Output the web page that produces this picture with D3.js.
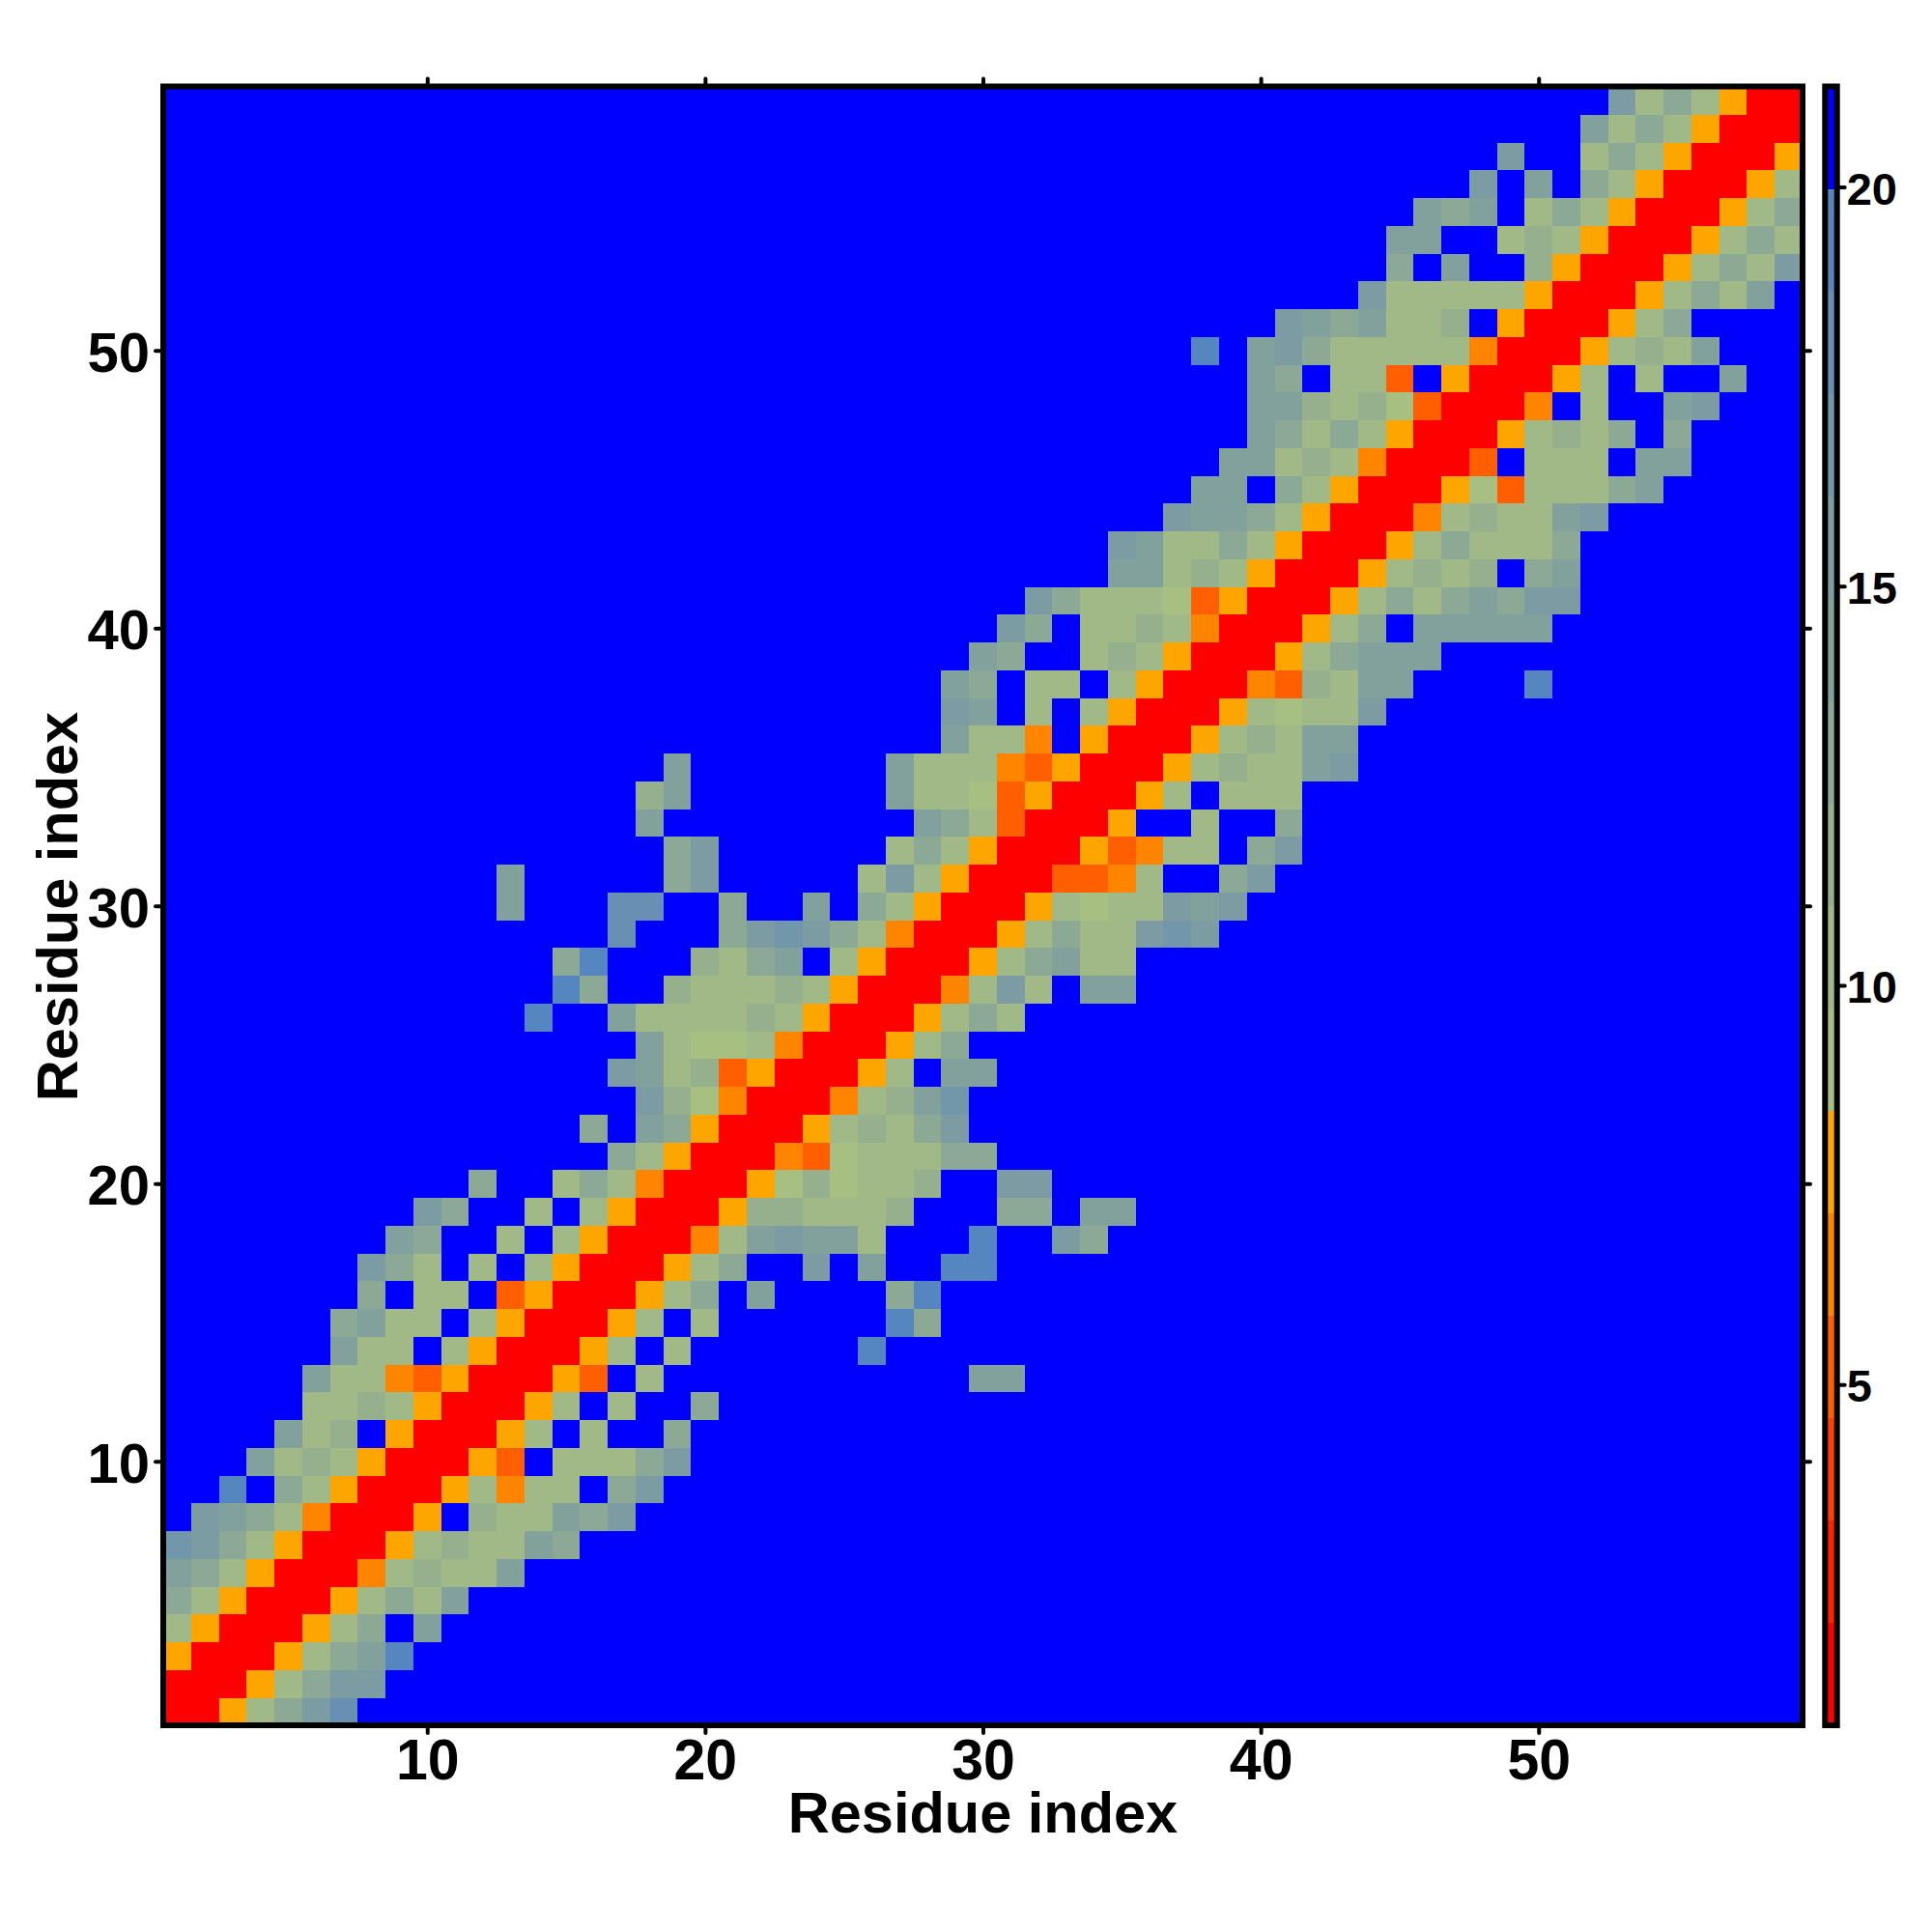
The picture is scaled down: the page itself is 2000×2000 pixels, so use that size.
<!DOCTYPE html>
<html>
<head>
<meta charset="utf-8">
<script src="https://cdn.jsdelivr.net/npm/d3@7"></script>
<style>
html,body{margin:0;padding:0;background:#fff}
svg{display:block}
text{font-family:"Liberation Sans",Arial,sans-serif;font-weight:bold;fill:#000}
</style>
</head>
<body>
<div id="chart"></div>
<script>
// Distance-map values per residue row: first listed column, then the values from there on.
// Anything outside a listed run is above the scale (21).
const rowStart = [1,1,1,1,1,1,1,2,3,4,5,6,6,7,7,8,8,9,10,12,17,16,18,17,18,14,15,15,17,13,13,19,18,18,19,29,29,29,30,31,32,35,35,37,38,39,40,40,40,38,41,44,45,45,46,48,49,52,53];
const rowValues = [
[2,2,8,10,13,15,18],
[2,2,2,8,10,13,15,15],
[8,2,2,2,8,10,13,14,19],
[10,8,2,2,2,8,10,13,21,14],
[13,10,8,2,2,2,8,10,13,10,14],
[14,13,10,8,2,2,2,7,10,12,10,10,14],
[17,15,13,10,8,2,2,2,8,10,12,10,10,14,13],
[15,14,13,10,7,2,2,2,8,21,12,10,10,14,13,15],
[19,21,13,10,8,2,2,2,8,10,7,10,10,21,13,15],
[14,10,12,10,8,2,2,2,8,5,21,10,10,10,13,15],
[14,10,12,21,8,2,2,2,8,10,21,10,21,21,13],
[10,10,12,10,8,2,2,2,8,10,21,10,21,21,13],
[14,10,10,7,5,8,2,2,2,8,5,21,10,21,21,21,21,21,21,21,21,21,21,21,14,14],
[14,10,10,21,10,8,2,2,2,8,10,21,10,21,21,21,21,21,21,19],
[13,14,10,10,21,10,8,2,2,2,8,10,21,10,21,21,21,21,21,21,19,13],
[13,21,10,10,21,5,8,2,2,2,8,10,13,21,14,21,21,21,21,13,19],
[15,13,10,21,10,21,10,8,2,2,2,8,10,13,21,21,15,21,14,21,21,19,19],
[14,13,21,21,10,21,10,8,2,2,2,7,10,14,15,14,14,10,21,21,21,19,21,21,15,13],
[15,13,21,21,10,21,10,8,2,2,2,8,12,12,10,10,10,12,21,21,21,13,13,21,14,14],
[13,21,21,10,13,10,7,2,2,2,8,9,12,9,10,10,12,21,21,15,15],
[13,10,8,2,2,2,7,5,9,10,10,10,13,13],
[13,21,14,13,8,2,2,2,8,10,12,10,13,15],
[15,12,9,7,2,2,2,7,10,12,14,17],
[15,14,10,12,5,8,2,2,2,8,10,21,14,14],
[14,10,9,9,10,7,2,2,2,8,10,13],
[19,21,21,14,10,10,10,10,12,10,8,2,2,2,8,10,13,10],
[19,13,21,21,12,10,10,10,12,10,8,2,2,2,7,10,15,10,21,14,14],
[13,19,21,21,21,12,10,13,14,21,10,8,2,2,2,8,10,13,14,10,10],
[18,21,21,21,13,15,17,15,13,10,7,2,2,2,8,10,13,10,10,15,17,15],
[14,21,21,21,18,18,21,21,13,21,21,14,21,13,10,8,2,2,2,8,10,9,10,10,15,14,15],
[14,21,21,21,21,21,13,15,21,21,21,21,21,10,15,10,8,2,2,2,5,5,7,10,21,21,13,15],
[13,15,21,21,21,21,21,21,10,13,10,8,2,2,2,8,5,7,10,10,21,13,15],
[14,21,21,21,21,21,21,21,21,21,14,13,10,5,2,2,2,8,21,21,10,21,21,13],
[12,14,21,21,21,21,21,21,21,14,10,10,9,5,8,2,2,2,8,10,21,10,10,10],
[14,21,21,21,21,21,21,21,14,10,10,10,7,5,8,2,2,2,8,10,12,10,10,14,15],
[14,10,10,7,21,8,2,2,2,8,10,12,10,14,14],
[15,14,21,10,21,10,8,2,2,2,8,10,9,10,10,15],
[14,13,21,10,10,21,10,8,2,2,2,7,5,12,10,14,14,21,21,21,21,19],
[14,13,21,21,10,12,10,8,2,2,2,8,10,13,14,14,14],
[15,13,21,10,10,12,10,7,2,2,2,8,10,13,21,14,14,14,14,14],
[15,13,10,10,10,9,5,8,2,2,2,8,10,13,10,13,14,13,15,15],
[14,14,10,12,10,8,2,2,2,8,10,12,10,12,21,13,14],
[15,14,10,10,13,10,8,2,2,2,8,10,13,10,10,10,13],
[15,14,14,13,10,8,2,2,2,7,10,12,10,10,14,15],
[14,14,21,13,10,8,2,2,2,8,9,5,10,10,10,13,14],
[14,14,10,12,10,7,2,2,2,5,21,10,10,10,21,14,14],
[14,13,10,13,10,8,2,2,2,8,10,12,10,13,21,13],
[14,14,12,10,12,9,5,2,2,2,7,21,10,21,21,14,15],
[14,13,21,10,10,5,21,8,2,2,2,8,10,21,10,21,21,14],
[19,21,14,15,13,10,10,10,10,10,7,2,2,2,8,10,12,10,14],
[15,14,13,14,10,10,12,21,8,2,2,2,8,10,13],
[15,10,10,10,10,10,8,2,2,2,8,10,13,10,14],
[13,21,14,21,21,12,8,2,2,2,8,10,13,10,15],
[14,14,21,21,10,12,10,8,2,2,2,8,10,13,10],
[14,13,14,21,10,13,10,8,2,2,2,8,10,13],
[15,21,14,21,13,10,8,2,2,2,8,10],
[15,21,21,10,13,10,8,2,2,2,8],
[14,10,13,10,8,2,2,2],
[15,10,13,10,8,2,2]
];
const residueCount = 59;
const emptyValue = 21;
const axisTicks = [10,20,30,40,50];
const barTicks = [5,10,15,20];
const barDomain = [0.73, 21.26];
const levelColors = ["#ff0000","#ff2000","#ff4000","#ff5f00","#ff8400","#ffa500",
  "#a8bf82","#a0b987","#96b08d","#8ba994","#82a09c","#7c9ba3","#7297ab","#6890b3","#5686bf","#0000ff"];
const axisTitle = "Residue index";

const svg = d3.select("#chart").append("svg").attr("width",2000).attr("height",2000);
const L=169,R=1866,T=89.5,B=1786;
const x = d3.scaleLinear().domain([0.5,residueCount+0.5]).range([L,R]);
const y = d3.scaleLinear().domain([0.5,residueCount+0.5]).range([B,T]);
const color = d3.scaleQuantize().domain(barDomain).range(levelColors);

const cells = [];
for (let r=1;r<=residueCount;r++) for (let c=1;c<=residueCount;c++) {
  const v = rowValues[r-1][c-rowStart[r-1]];
  cells.push({r,c,v: v===undefined?emptyValue:v});
}
svg.append("g").attr("shape-rendering","crispEdges").selectAll("rect").data(cells).join("rect")
  .attr("x",d=>x(d.c-0.5)).attr("y",d=>y(d.r+0.5))
  .attr("width",d=>x(d.c+0.5)-x(d.c-0.5)+0.5).attr("height",d=>y(d.r-0.5)-y(d.r+0.5)+0.5)
  .attr("fill",d=>color(d.v));

function style(g,size){
  g.select(".domain").remove();
  g.selectAll(".tick line").attr("stroke","#000").attr("stroke-width",4).attr("stroke-linecap","round");
  g.selectAll(".tick text").attr("font-size",size).attr("fill","#000");
}
const fmt = d3.format("d");
svg.append("g").attr("transform",`translate(0,${B})`)
  .call(d3.axisBottom(x).tickValues(axisTicks).tickFormat(fmt).tickSize(8).tickPadding(6)).call(style,59);
const left = svg.append("g").attr("transform",`translate(${L},0)`)
  .call(d3.axisLeft(y).tickValues(axisTicks).tickFormat(fmt).tickSize(8).tickPadding(6)).call(style,58);
left.selectAll(".tick text").attr("dy","0.37em");
svg.append("g").attr("transform",`translate(0,${T})`)
  .call(d3.axisTop(x).tickValues(axisTicks).tickFormat("").tickSize(8)).call(style,60);
svg.append("g").attr("transform",`translate(${R},0)`)
  .call(d3.axisRight(y).tickValues(axisTicks).tickFormat("").tickSize(8)).call(style,60);

svg.append("rect").attr("x",L).attr("y",T).attr("width",R-L).attr("height",B-T)
  .attr("fill","none").attr("stroke","#000").attr("stroke-width",6);

svg.append("text").attr("x",(L+R)/2).attr("y",1897).attr("text-anchor","middle").attr("font-size",59.5).text(axisTitle);
svg.append("text").attr("transform",`translate(80,${(L+R)/2-79}) rotate(-90)`).attr("text-anchor","middle").attr("font-size",59.5).text(axisTitle);

// colour bar
const barX0=1889.3, barX1=1901.7;
const barY = d3.scaleLinear().domain(barDomain).range([B,T]);
const thresholds = [barDomain[0],...color.thresholds(),barDomain[1]];
svg.append("g").attr("shape-rendering","crispEdges").selectAll("rect").data(levelColors).join("rect")
  .attr("x",barX0).attr("width",barX1-barX0)
  .attr("y",(d,i)=>barY(thresholds[i+1])).attr("height",(d,i)=>barY(thresholds[i])-barY(thresholds[i+1])+0.5)
  .attr("fill",d=>d);
svg.append("g").attr("transform",`translate(${barX1},0)`)
  .call(d3.axisRight(barY).tickValues(barTicks).tickFormat(fmt).tickSize(8).tickPadding(2)).call(style,47)
  .selectAll(".tick text").attr("dy","0.37em");
svg.append("rect").attr("x",barX0).attr("y",T).attr("width",barX1-barX0).attr("height",B-T)
  .attr("fill","none").attr("stroke","#000").attr("stroke-width",6);
</script>
</body>
</html>
